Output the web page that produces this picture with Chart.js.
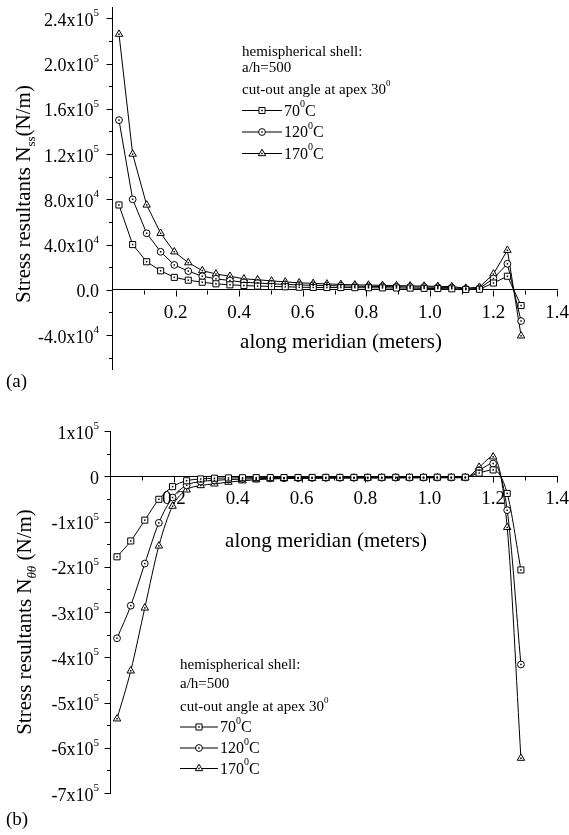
<!DOCTYPE html>
<html>
<head>
<meta charset="utf-8">
<script src="https://cdn.jsdelivr.net/npm/chart.js@4.4.0/dist/chart.umd.min.js"></script>
<style>
  body { margin: 0; background: #fff; }
  #wrap { position: relative; width: 569px; height: 835px; }
  canvas { position: absolute; left: 0; }
  #nss { top: 0; }
  #ntt { top: 400px; }
</style>
</head>
<body>
<div id="wrap">
  <canvas id="nss" width="569" height="400"></canvas>
  <canvas id="ntt" width="569" height="435"></canvas>
</div>
<script>
// element mid-points along the meridian (m)
var meridian = [0.022, 0.065, 0.109, 0.153, 0.196, 0.240, 0.284, 0.327, 0.371, 0.415,
  0.458, 0.502, 0.545, 0.589, 0.633, 0.676, 0.720, 0.764, 0.807, 0.851,
  0.895, 0.938, 0.982, 1.025, 1.069, 1.113, 1.156, 1.200, 1.244, 1.287];

var temps = ["70", "120", "170"];

// meridional stress resultant N_ss (N/m)
var nss70 = [75000, 40000, 24800, 16800, 11000, 8500, 6700, 5300, 4400, 3800,
  3300, 3000, 2700, 2300, 2100, 2000, 2000, 1900, 1800, 1700,
  1600, 1500, 1300, 1100, 900, 300, 500, 6000, 12000, -13900];
var nss120 = [150000, 80000, 50000, 33600, 22000, 16500, 12000, 9700, 8200, 6700,
  6000, 5300, 4800, 4300, 4000, 3700, 3500, 3200, 3000, 2900,
  2700, 2600, 2400, 2200, 2000, 800, 1200, 10000, 23000, -27600];
var nss170 = [226000, 120000, 75000, 50000, 33600, 24000, 17000, 14000, 12000, 9700,
  8900, 7900, 7000, 6200, 5700, 5200, 4800, 4400, 4200, 3900,
  3700, 3500, 3300, 3100, 2800, 1500, 2300, 14000, 35000, -40700];

// hoop stress resultant N_theta-theta (N/m)
var ntt70 = [-178000, -143000, -97000, -51000, -23000, -10000, -6000, -4400, -3700, -3300,
  -3000, -3000, -2800, -2700, -2600, -2500, -2500, -2400, -2400, -2300,
  -2300, -2200, -2200, -2100, -2100, -2000, 7000, 14000, -38000, -207000];
var ntt120 = [-358000, -286000, -193000, -103000, -47000, -20000, -11700, -9000, -7400, -6200,
  -5400, -4800, -4400, -4000, -3800, -3600, -3500, -3400, -3300, -3200,
  -3100, -3000, -3000, -2900, -2900, -2800, 13000, 28000, -75000, -416000];
var ntt170 = [-536000, -430000, -291000, -154000, -66000, -30000, -20500, -16800, -13000, -10000,
  -7700, -6000, -5200, -4800, -4500, -4300, -4100, -4000, -3900, -3800,
  -3700, -3600, -3500, -3400, -3300, -3200, 20000, 43000, -113000, -623000];

var xTicks = [0.2, 0.4, 0.6, 0.8, 1.0, 1.2, 1.4];
var xTickLabels = ["0.2", "0.4", "0.6", "0.8", "1.0", "1.2", "1.4"];
var xMinor = [0.1, 0.3, 0.5, 0.7, 0.9, 1.1, 1.3];

var nssTicks = [-40000, 0, 40000, 80000, 120000, 160000, 200000, 240000];
var nssTickLabels = [["-4.0x10", "4"], ["0.0", ""], ["4.0x10", "4"], ["8.0x10", "4"],
  ["1.2x10", "5"], ["1.6x10", "5"], ["2.0x10", "5"], ["2.4x10", "5"]];
var nssMinor = [-60000, -20000, 20000, 60000, 100000, 140000, 180000, 220000];

var nttTicks = [-700000, -600000, -500000, -400000, -300000, -200000, -100000, 0, 100000];
var nttTickLabels = [["-7x10", "5"], ["-6x10", "5"], ["-5x10", "5"], ["-4x10", "5"],
  ["-3x10", "5"], ["-2x10", "5"], ["-1x10", "5"], ["0", ""], ["1x10", "5"]];
var nttMinor = [-650000, -550000, -450000, -350000, -250000, -150000, -50000, 50000];

var SERIF = '"Liberation Serif", "Times New Roman", serif';
var markers = ['rect', 'circle', 'triangle'];
var markerSize = [4.3, 3.4, 4.3];

function segFont(s, size) {
  var sz = (s.sup || s.sub) ? Math.round(size * 0.62) : size;
  return (s.it ? 'italic ' : '') + sz + 'px ' + SERIF;
}

// text with super/subscript pieces
function richText(ctx, segs, x, y, size, align) {
  var w = 0;
  segs.forEach(function (s) {
    ctx.font = segFont(s, size);
    s.w = ctx.measureText(s.t).width;
    w += s.w;
  });
  var cx = align === 'right' ? x - w : align === 'center' ? x - w / 2 : x;
  ctx.textAlign = 'left';
  ctx.textBaseline = 'alphabetic';
  segs.forEach(function (s) {
    ctx.font = segFont(s, size);
    var dy = s.sup ? -size * 0.52 : s.sub ? size * 0.22 : 0;
    ctx.fillText(s.t, cx, y + dy);
    cx += s.w;
  });
}

function marker(ctx, style, r, x, y) {
  ctx.fillStyle = '#fff';
  ctx.strokeStyle = '#000';
  ctx.lineWidth = 1;
  Chart.helpers.drawPoint(ctx, {pointStyle: style, radius: r, borderWidth: 1, rotation: 0}, x, y);
  ctx.fillStyle = '#000';
  ctx.fillRect(x - 0.75, y - 0.75, 1.5, 1.5);
}

var frame = {
  id: 'frame',
  afterDatasetsDraw: function (chart) {
    var ctx = chart.ctx;
    ctx.save();
    ctx.fillStyle = '#000';
    chart.data.datasets.forEach(function (ds, i) {
      chart.getDatasetMeta(i).data.forEach(function (pt) {
        ctx.fillRect(pt.x - 0.75, pt.y - 0.75, 1.5, 1.5);
      });
    });
    ctx.restore();
  },
  afterDraw: function (chart, args, o) {
    var ctx = chart.ctx, xs = chart.scales.x, ys = chart.scales.y;
    var y0 = Math.round(ys.getPixelForValue(0)) + 0.5;
    var xl = Math.round(xs.left) + 0.5;
    ctx.save();
    ctx.strokeStyle = '#000';
    ctx.fillStyle = '#000';
    ctx.lineWidth = 1;

    // tick marks
    ctx.beginPath();
    xTicks.forEach(function (v) {
      var px = Math.round(xs.getPixelForValue(v)) + 0.5;
      ctx.moveTo(px, y0); ctx.lineTo(px, y0 + 6);
    });
    xMinor.forEach(function (v) {
      var px = Math.round(xs.getPixelForValue(v)) + 0.5;
      ctx.moveTo(px, y0); ctx.lineTo(px, y0 + 4);
    });
    o.yTicks.forEach(function (v) {
      var py = Math.round(ys.getPixelForValue(v)) + 0.5;
      ctx.moveTo(xl, py); ctx.lineTo(xl - 6, py);
    });
    o.yMinor.forEach(function (v) {
      var py = Math.round(ys.getPixelForValue(v)) + 0.5;
      ctx.moveTo(xl, py); ctx.lineTo(xl - 3.5, py);
    });
    ctx.stroke();

    // tick labels
    ctx.font = '19px ' + SERIF;
    ctx.textAlign = 'center';
    ctx.textBaseline = 'alphabetic';
    xTicks.forEach(function (v, i) {
      ctx.fillText(xTickLabels[i], xs.getPixelForValue(v), y0 + 27);
    });
    o.yTicks.forEach(function (v, i) {
      var lab = o.yLabels[i];
      var segs = [{t: lab[0]}];
      if (lab[1]) segs.push({t: lab[1], sup: true});
      richText(ctx, segs, o.labelRight, ys.getPixelForValue(v) + 7.5, 18, 'right');
    });

    // axis titles
    ctx.font = '21px ' + SERIF;
    ctx.textAlign = 'center';
    ctx.fillText('along meridian (meters)', o.xTitle[0], o.xTitle[1]);
    ctx.save();
    ctx.translate(o.yTitle[0], o.yTitle[1]);
    ctx.rotate(-Math.PI / 2);
    richText(ctx, o.yTitleSegs, 0, 0, 21, 'center');
    ctx.restore();

    // panel letter
    ctx.font = '19px ' + SERIF;
    ctx.textAlign = 'left';
    ctx.fillText(o.panel[0], o.panel[1], o.panel[2]);

    // legend block
    var lg = o.legend;
    ctx.font = '15px ' + SERIF;
    ctx.fillText('hemispherical shell:', lg.x, lg.head[0]);
    ctx.fillText('a/h=500', lg.x, lg.head[1]);
    richText(ctx, [{t: 'cut-out angle at apex 30'}, {t: '0', sup: true}], lg.x, lg.head[2], 15, 'left');
    temps.forEach(function (t, i) {
      var ly = lg.rows[i];
      ctx.strokeStyle = '#000';
      ctx.beginPath();
      ctx.moveTo(lg.x, ly + 0.5); ctx.lineTo(lg.x + lg.len, ly + 0.5);
      ctx.stroke();
      marker(ctx, markers[i], markerSize[i], lg.x + lg.len / 2, ly + 0.5);
      ctx.fillStyle = '#000';
      richText(ctx, [{t: t}, {t: '0', sup: true}, {t: 'C'}], lg.x + lg.len + 2, ly + 5.5, 16, 'left');
    });
    ctx.restore();
  }
};

function buildChart(id, series, yMin, yMax, smooth, pad, deco) {
  return new Chart(document.getElementById(id), {
    type: 'line',
    data: {
      datasets: series.map(function (vals, i) {
        return {
          label: temps[i] + '°C',
          data: meridian.map(function (x, j) { return {x: x, y: vals[j]}; }),
          borderColor: '#000',
          borderWidth: 1,
          backgroundColor: '#fff',
          pointStyle: markers[i],
          pointRadius: markerSize[i],
          pointBackgroundColor: '#fff',
          pointBorderColor: '#000',
          pointBorderWidth: 1,
          cubicInterpolationMode: smooth ? 'monotone' : 'default',
          tension: 0
        };
      })
    },
    options: {
      responsive: false,
      animation: false,
      devicePixelRatio: 1,
      layout: {padding: pad},
      plugins: {legend: {display: false}, tooltip: {enabled: false}, frame: deco},
      scales: {
        x: {
          type: 'linear', min: 0, max: 1.4, position: {y: 0},
          ticks: {display: false}, grid: {display: false, drawTicks: false},
          border: {display: true, color: '#000', width: 1}
        },
        y: {
          type: 'linear', min: yMin, max: yMax,
          ticks: {display: false}, grid: {display: false, drawTicks: false},
          border: {display: true, color: '#000', width: 1}
        }
      }
    },
    plugins: [frame]
  });
}

buildChart('nss', [nss70, nss120, nss170], -70000, 250000, false,
  {left: 112, right: 12, top: 7, bottom: 31},
  {
    yTicks: nssTicks, yLabels: nssTickLabels, yMinor: nssMinor, labelRight: 99,
    xTitle: [341, 347.5], yTitle: [30, 194],
    yTitleSegs: [{t: 'Stress resultants N'}, {t: 'ss', sub: true}, {t: '(N/m)'}],
    panel: ['(a)', 6, 387],
    legend: {x: 242, len: 40, head: [56, 72, 94], rows: [110, 131.5, 153]}
  });

buildChart('ntt', [ntt70, ntt120, ntt170], -700000, 100000, true,
  {left: 110, right: 12, top: 31, bottom: 42},
  {
    yTicks: nttTicks, yLabels: nttTickLabels, yMinor: nttMinor, labelRight: 99,
    xTitle: [326, 147], yTitle: [31, 222],
    yTitleSegs: [{t: 'Stress resultants N'}, {t: 'θθ', sub: true, it: true}, {t: ' (N/m)'}],
    panel: ['(b)', 6, 425],
    legend: {x: 180, len: 38, head: [269, 288, 311], rows: [326.5, 347.5, 368]}
  });
</script>
</body>
</html>
